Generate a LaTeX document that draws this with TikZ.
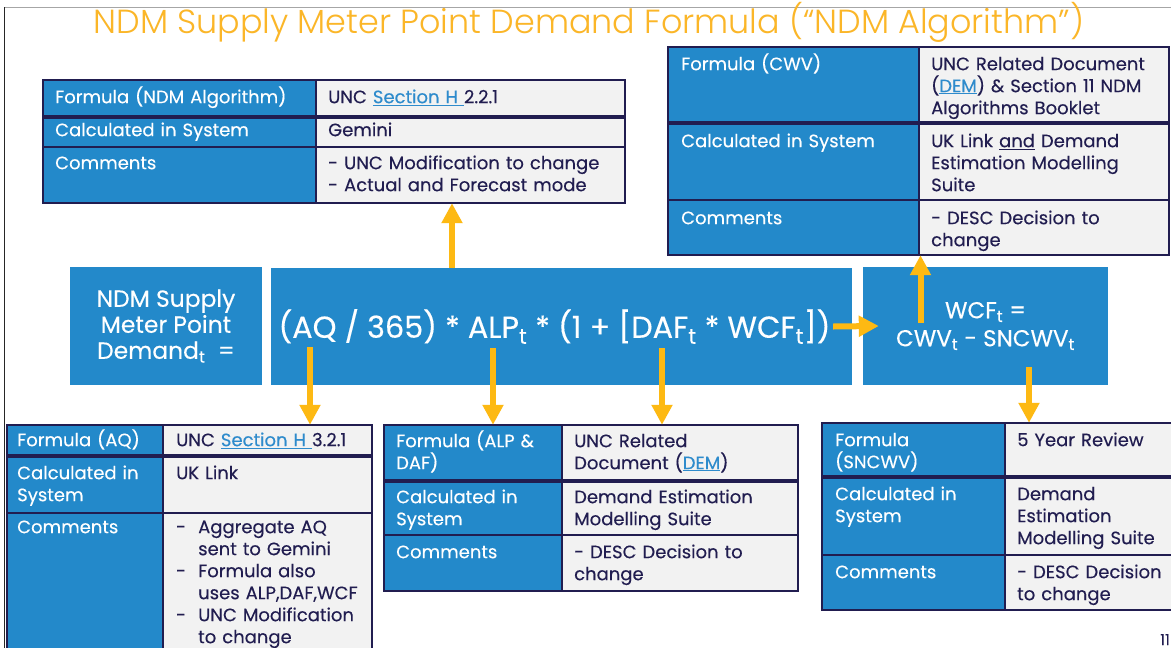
\documentclass[tikz,border=0pt]{standalone}
\usepackage{fontspec}
\setmainfont{Poppins}[FakeBold=0.25]
\newfontfamily\titlefont{Poppins Light}
\usetikzlibrary{arrows.meta,fit,calc}
\definecolor{bluec}{RGB}{35,137,202}
\definecolor{grayc}{RGB}{242,242,242}
\definecolor{navy}{RGB}{33,29,80}
\definecolor{orangec}{RGB}{253,185,19}
\definecolor{titlec}{RGB}{251,182,40}
\definecolor{linkc}{RGB}{46,139,204}
\newcommand\lnk[1]{\textcolor{linkc}{\underline{#1}}}
\newcommand\ulw[1]{\underline{#1}}
\newcommand\sbt{\textsubscript{t}}
\newcommand\dsh{\makebox[22pt][l]{-}}
\newcommand\ind{\hspace*{22pt}}
\newcommand\tstrut{\rule{0pt}{18pt}}
\newcommand\drawtable[7]{%
  \fill[bluec] (#1,#4) rectangle (#3,#7);
  \fill[grayc] (#3,#4) rectangle (#2,#7);
  \draw[thinb] (#1,#4) rectangle (#2,#7);
  \draw[thinb] (#3,#4) -- (#3,#7);
  \draw[thinb] (#1,#6) -- (#2,#6);
  \draw[thickb] (#1,#5) -- (#2,#5);
}
\tikzset{
  tfont/.style={font=\fontsize{18}{22}\selectfont},
  lcell/.style={anchor=north west, inner sep=0pt, text width=#1, align=left, text=white, tfont, yshift=2.6pt, execute at begin node=\tstrut},
  rcell/.style={anchor=north west, inner sep=0pt, text width=#1, align=left, text=navy, tfont, yshift=2.6pt, execute at begin node=\tstrut},
  thinb/.style={draw=navy, line width=1.5pt},
  thickb/.style={draw=navy, line width=4pt},
  bluebox/.style={fill=bluec, draw=none, inner sep=0pt, text=white, align=center},
  btext/.style={inner sep=0pt, text=white, align=center},
  arr/.style={draw=orangec, line width=6pt, -{Triangle[width=20pt,length=20pt]}},
  tblbox/.style={inner sep=0pt, draw=none},
}
\begin{document}
\begin{tikzpicture}[x=1pt,y=-1pt]
\useasboundingbox[fill=white] (0,0) rectangle (1171,648);
% frame
\draw[gray!70, line width=1.2pt] (4,7.5) -- (1171,7.5);
\draw[black!85, line width=1.5pt] (4.5,7) -- (4.5,648);
% title
\node[anchor=base, text=titlec, font=\titlefont\fontsize{33.4}{38}\selectfont, inner sep=0pt] (title) at (589,33) {NDM Supply Meter Point Demand Formula (“NDM Algorithm”)};

% ---------- Table 1 (NDM Algorithm)
\drawtable{43}{625}{316}{80}{116.5}{147}{203}
\node[tblbox, fit={(43,80)(625,203)}] (t1) {};
\node[lcell=258] (t1a) at (55,87.6) {Formula (NDM Algorithm)};
\node[rcell=292] (t1b) at (328,87.6) {UNC \lnk{Section H\ }2.2.1};
\node[lcell=258] (t1c) at (55,120.6) {Calculated in System};
\node[rcell=292] (t1d) at (328,120.6) {Gemini};
\node[lcell=258] (t1e) at (55,153.6) {Comments};
\node[rcell=292] (t1f) at (328,153.6) {- UNC Modification to change\\- Actual and Forecast mode};

% ---------- Table 2 (CWV)
\drawtable{668}{1169}{919}{47}{123}{200}{255}
\node[tblbox, fit={(668,47)(1169,255)}] (t2) {};
\node[lcell=238] (t2a) at (681,54.6) {Formula (CWV)};
\node[rcell=238] (t2b) at (931,54.6) {UNC Related Document\\(\lnk{DEM}) \& Section 11 NDM\\Algorithms Booklet};
\node[lcell=238] (t2c) at (681,131.6) {Calculated in System};
\node[rcell=238] (t2d) at (931,131.6) {UK Link \ulw{and} Demand\\Estimation Modelling\\Suite};
\node[lcell=238] (t2e) at (681,208.6) {Comments};
\node[rcell=238] (t2f) at (931,208.6) {- DESC Decision to\\change};

% ---------- Table AQ
\drawtable{7}{372}{163}{425}{456}{513}{652}
\node[tblbox, fit={(7,425)(372,648)}] (taq) {};
\node[lcell=148] (taqa) at (17,430.6) {Formula (AQ)};
\node[rcell=205] (taqb) at (176,430.6) {UNC \lnk{Section H\ }3.2.1};
\node[lcell=148] (taqc) at (17,463.6) {Calculated in\\System};
\node[rcell=205] (taqd) at (176,463.6) {UK Link};
\node[lcell=148] (taqe) at (17,517.6) {Comments};
\node[rcell=205] (taqf) at (176,517.6) {\dsh Aggregate AQ\\\ind sent to Gemini\\\dsh Formula also\\\ind uses ALP,DAF,WCF\\\dsh UNC Modification\\\ind to change};

% ---------- Table ALP & DAF
\drawtable{384}{798}{562}{425}{481}{535}{591}
\node[tblbox, fit={(384,425)(798,591)}] (talp) {};
\node[lcell=168] (talpa) at (396,431.6) {Formula (ALP \&\\DAF)};
\node[rcell=228] (talpb) at (574,431.6) {UNC Related\\Document (\lnk{DEM})};
\node[lcell=168] (talpc) at (396,487.6) {Calculated in\\System};
\node[rcell=228] (talpd) at (574,487.6) {Demand Estimation\\Modelling Suite};
\node[lcell=168] (talpe) at (396,542.6) {Comments};
\node[rcell=228] (talpf) at (574,542.6) {- DESC Decision to\\change};

% ---------- Table SNCWV
\drawtable{822}{1175}{1005}{423}{477}{555}{610}
\node[tblbox, fit={(822,423)(1171,610)}] (tsn) {};
\node[lcell=172] (tsna) at (835,430.6) {Formula\\(SNCWV)};
\node[rcell=165] (tsnb) at (1017,430.6) {5 Year Review};
\node[lcell=172] (tsnc) at (835,484.6) {Calculated in\\System};
\node[rcell=165] (tsnd) at (1017,484.6) {Demand\\Estimation\\Modelling Suite};
\node[lcell=172] (tsne) at (835,562.6) {Comments};
\node[rcell=165] (tsnf) at (1017,562.6) {- DESC Decision\\to change};

% ---------- main boxes
\node[bluebox, minimum width=192pt, minimum height=118pt] (lhs) at (166,326) {};
\node[btext, font=\fontsize{23.4}{26}\selectfont] (lhst) at (lhs.center) {NDM Supply\\Meter Point\\Demand\sbt{} \ =};
\node[bluebox, minimum width=581pt, minimum height=117pt] (fbox) at (561.5,326.5) {};
\node[btext, font=\fontsize{30.3}{36}\selectfont] (ftx) at ($(fbox.center)+(-7,0)$) {(AQ / 365) * ALP\sbt{} * (1 + [DAF\sbt{} * WCF\sbt])};
\node[bluebox, minimum width=245pt, minimum height=118pt] (wcf) at (985.5,326) {};
\node[btext, font=\fontsize{23}{28}\selectfont] (wcft) at (wcf.center) {WCF\sbt{} =\\CWV\sbt{} - SNCWV\sbt};

% page number
\node[anchor=base east, inner sep=0pt, text=navy, font=\fontsize{15}{18}\selectfont] (pg) at (1170,645) {11};

% ---------- arrows
\coordinate (c1) at (452,0);
\draw[arr] (fbox.north -| c1) -- (t1.south -| c1);
\draw[arr] ([xshift=-19pt]fbox.east) -- ([xshift=16pt]wcf.west);
\coordinate (c5) at (920.5,323);
\draw[arr] (c5) -- (c5 |- t2.south);
\coordinate (c2) at (310,347);
\draw[arr] (c2) -- (c2 |- taq.north);
\coordinate (c3) at (493,348);
\draw[arr] (c3) -- (c3 |- talp.north);
\coordinate (c4) at (662,348);
\draw[arr] (c4) -- (c4 |- talp.north);
\coordinate (c6) at (1029,367);
\draw[arr] (c6) -- (c6 |- tsn.north);
\end{tikzpicture}
\end{document}
